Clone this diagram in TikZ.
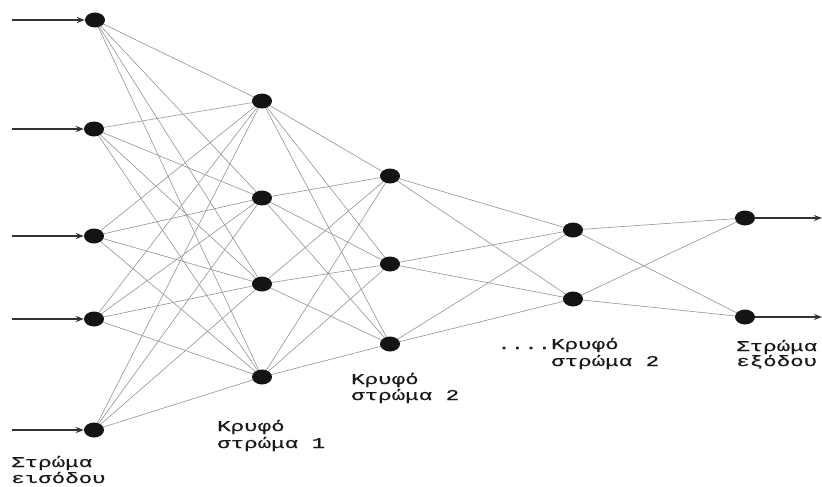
\documentclass[tikz,border=0pt]{standalone}
\usepackage{fontspec}
\newfontfamily\lblfont[FakeStretch=1.5,FakeBold=0.6]{Liberation Mono}
\usetikzlibrary{shapes.geometric,arrows.meta,backgrounds}

\begin{document}
\begin{tikzpicture}[x=1pt,y=-1pt,
  neuron/.style={ellipse,fill=black!92,minimum width=20pt,minimum height=15pt,inner sep=0pt},
  link/.style={draw=black!40,line width=0.65pt},
  signal/.style={draw=black!80,line width=1.3pt,-{Stealth[length=8pt,width=6pt]}},
  lbl/.style={anchor=base west,inner sep=0pt,text=black!90,font=\lblfont\fontsize{15}{16}\selectfont}]
\useasboundingbox (0,0) rectangle (822,487);

% input layer
\node[neuron] (i1) at (95,20) {};
\node[neuron] (i2) at (94,129) {};
\node[neuron] (i3) at (94,236) {};
\node[neuron] (i4) at (94,319) {};
\node[neuron] (i5) at (94,430) {};
% first hidden layer
\node[neuron] (a1) at (262,101) {};
\node[neuron] (a2) at (262,198) {};
\node[neuron] (a3) at (262,284) {};
\node[neuron] (a4) at (262,377) {};
% second hidden layer
\node[neuron] (b1) at (390,176) {};
\node[neuron] (b2) at (390,264) {};
\node[neuron] (b3) at (390,344) {};
% last hidden layer
\node[neuron] (c1) at (573,230) {};
\node[neuron] (c2) at (573,299) {};
% output layer
\node[neuron] (o1) at (745,218) {};
\node[neuron] (o2) at (745,317) {};

% fully connected weights, drawn under the neurons
\begin{scope}[on background layer]
  \foreach \s in {i1,i2,i3,i4,i5}
    \foreach \t in {a1,a2,a3,a4}
      \draw[link] (\s.center) -- (\t.center);
  \foreach \s in {a1,a2,a3,a4}
    \foreach \t in {b1,b2,b3}
      \draw[link] (\s.center) -- (\t.center);
  \foreach \s in {b1,b2,b3}
    \foreach \t in {c1,c2}
      \draw[link] (\s.center) -- (\t.center);
  \foreach \s in {c1,c2}
    \foreach \t in {o1,o2}
      \draw[link] (\s.center) -- (\t.center);
\end{scope}

% input and output signals
\foreach \n in {i1,i2,i3,i4,i5}
  \coordinate (src\n) at (12,0 |- \n);
\foreach \n in {i1,i2,i3,i4,i5}
  \draw[signal] (src\n) -- (\n.west);
\coordinate (outo1) at (822,0 |- o1);
\coordinate (outo2) at (822,0 |- o2);
\draw[signal] (o1.east) -- (outo1);
\draw[signal] (o2.east) -- (outo2);

% layer captions
\node[lbl] (inA) at (11,467) {Στρώμα};
\node[lbl] (inB) at (11,483) {εισόδου};
\node[lbl] (h1A) at (217,431) {Κρυφό};
\node[lbl] (h1B) at (217,448) {στρώμα 1};
\node[lbl] (h2A) at (351,384) {Κρυφό};
\node[lbl] (h2B) at (351,400) {στρώμα 2};
\node[lbl] (h3A) at (497,349) {....Κρυφό};
\node[lbl] (h3B) at (551,366) {στρώμα 2};
\node[lbl] (outA) at (736,351) {Στρώμα};
\node[lbl] (outB) at (736,366) {εξόδου};
\end{tikzpicture}
\end{document}
